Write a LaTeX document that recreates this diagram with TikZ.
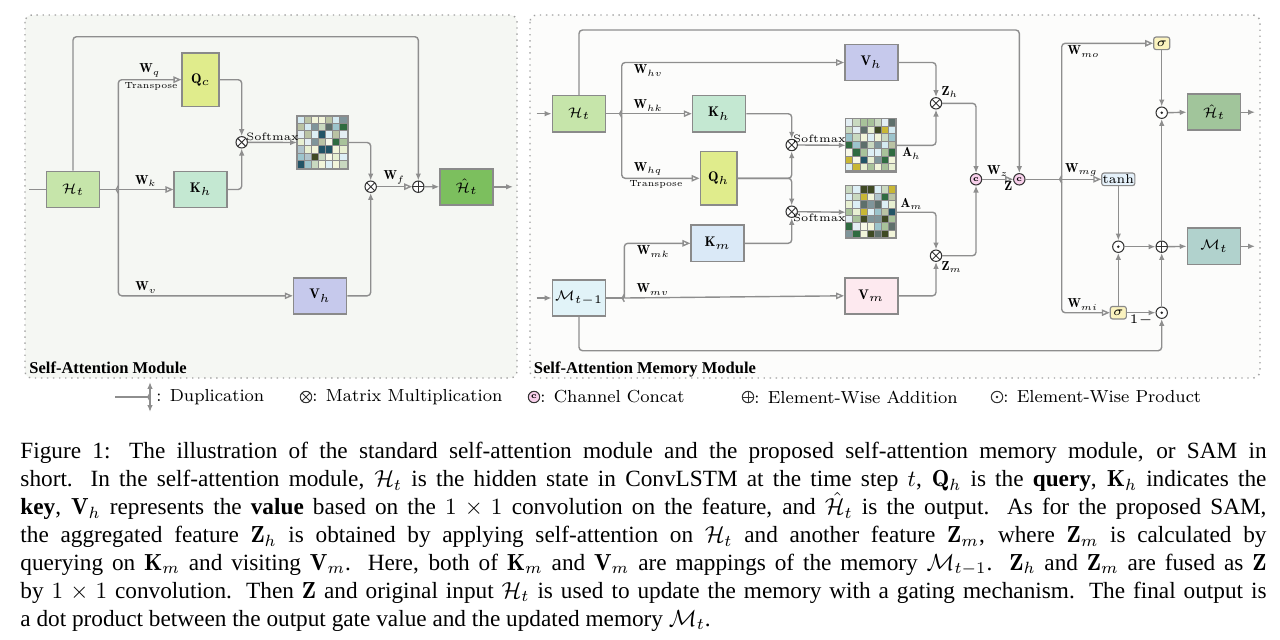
\RequirePackage{fix-cm}
\documentclass[tikz,border=0pt]{standalone}
\usepackage{amsmath, amssymb}
\usepackage{fontspec}
\newfontfamily\capfont{Liberation Serif}
\usepackage{tikz}
\usetikzlibrary{
  positioning,
  arrows.meta,
  calc
}
\definecolor{wiregray}{HTML}{8E8E8E}
\definecolor{boxgray}{HTML}{8A8A8A}
\definecolor{cellgray}{HTML}{8C8C8C}
\definecolor{panelL}{HTML}{F5F7F3}
\definecolor{panelR}{HTML}{FCFCFB}
\definecolor{hgreen}{HTML}{C6E5AA}
\definecolor{qyellow}{HTML}{E0EC8C}
\definecolor{kmint}{HTML}{C4E8D2}
\definecolor{vlav}{HTML}{C6C9EC}
\definecolor{outgreen}{HTML}{7CBF5E}
\definecolor{kmblue}{HTML}{DAE9F7}
\definecolor{memcyan}{HTML}{E1F3F8}
\definecolor{vmpink}{HTML}{FDE9EF}
\definecolor{outsage}{HTML}{A1C59B}
\definecolor{memteal}{HTML}{B1D2CD}
\definecolor{sigyellow}{HTML}{FBF3BF}
\definecolor{tanhblue}{HTML}{E5F1FA}
\definecolor{catpink}{HTML}{F7CFEA}
% attention map palette
\definecolor{mc0}{HTML}{F2F5DA}
\definecolor{mc1}{HTML}{D4EAF1}
\definecolor{mc2}{HTML}{7F959A}
\definecolor{mc3}{HTML}{A8C29A}
\definecolor{mc4}{HTML}{E3EEF3}
\definecolor{mc5}{HTML}{5E6F6B}
\definecolor{mc6}{HTML}{BAC3A4}
\definecolor{mc7}{HTML}{9CC4CC}
\definecolor{mc8}{HTML}{3F4A24}
\definecolor{mc9}{HTML}{C9D9C0}
\definecolor{mc10}{HTML}{C8B735}
\definecolor{mc11}{HTML}{225466}
\definecolor{mc12}{HTML}{E8F0D2}
\definecolor{mc13}{HTML}{B0C4CC}
\definecolor{mc14}{HTML}{DDEFF5}
\definecolor{mc15}{HTML}{2F6B40}
\definecolor{mc16}{HTML}{F7F8E8}
\tikzset{
  box/.style={
    draw=boxgray, line width=0.7pt,
    minimum width=22.8pt,
    minimum height=15.5pt,
    inner sep=0pt,
    font=\fontsize{6}{7}\selectfont
  },
  tallbox/.style={box, minimum width=15.9pt, minimum height=23.2pt},
  gate/.style={
    draw=boxgray, line width=0.5pt, rounded corners=1pt,
    minimum width=6.9pt, minimum height=5.4pt, inner sep=0.4pt,
    font=\fontsize{5.5}{6}\selectfont
  },
  op/.style={circle, draw=black!80, line width=0.45pt, minimum size=4.9pt, inner sep=0pt, fill=white},
  multop/.style={op, path picture={
    \draw[black!80, line width=0.4pt] (path picture bounding box.north west) -- (path picture bounding box.south east)
      (path picture bounding box.north east) -- (path picture bounding box.south west);}},
  plusop/.style={op, path picture={
    \draw[black!80, line width=0.4pt] (path picture bounding box.north) -- (path picture bounding box.south)
      (path picture bounding box.west) -- (path picture bounding box.east);}},
  dotop/.style={op, path picture={\fill[black!85] (path picture bounding box.center) circle (0.6pt);}},
  catop/.style={op, fill=catpink, font=\fontsize{3.6}{4}\selectfont\bfseries},
  wire/.style={draw=wiregray, line width=0.6pt, rounded corners=1.5pt},
  arr/.style={wire, -{Latex[length=3pt,width=2.4pt]}},
  warr/.style={wire, -{Triangle[open,length=3.4pt,width=2.8pt]}},
  lbl/.style={font=\fontsize{5.6}{6}\selectfont, inner sep=0.8pt},
  tlbl/.style={font=\fontsize{3.8}{4}\selectfont, inner sep=0.8pt},
  smx/.style={font=\fontsize{4.6}{5}\selectfont, inner sep=0.6pt},
  panel/.style={draw=gray!75, dotted, line width=0.6pt, rounded corners=3pt},
  modlabel/.style={anchor=base west, inner sep=0pt, font=\capfont\bfseries\fontsize{7.1}{8}\selectfont},
  legtext/.style={anchor=west, inner sep=0pt, font=\fontsize{7.5}{8}\selectfont},
  attbox/.style={minimum width=21.5pt, minimum height=22.4pt, inner sep=0pt},
  cell/.style={draw=cellgray, line width=0.35pt},
  captext/.style={anchor=north west, inner sep=0pt, align=left, font=\capfont\fontsize{10}{12}\selectfont}
}
% duplication notch on a split point
\newcommand{\dupl}[1]{
  \draw[wire, rounded corners=0pt] ([yshift=1.6pt]#1) -- ([xshift=-0.9pt]#1) -- ([yshift=-1.6pt]#1);
}
% 7x7 attention map: name, position, seed
\newcommand{\attmap}[3]{
  \node[attbox] (#1) at (#2) {};
  \foreach \i in {0,...,6}{
    \foreach \j in {0,...,6}{
      \pgfmathtruncatemacro{\k}{mod(5*\i*\i+3*\j*\j+7*\i*\j+2*\j+#3,17)}
      \draw[cell, fill=mc\k] ($(#1.north west)+(\j*7.143,\i*7.43)$) rectangle ++(7.143,7.43);
    }
  }
  \draw[cell, line width=0.6pt] (#1.north west) rectangle (#1.south east);
}
\newcommand{\capline}[1]{\makebox[535.8pt][s]{#1}}

\begin{document}
\begin{tikzpicture}[x=0.43pt, y=-0.43pt]
\useasboundingbox (0,0) rectangle (1280,639);

% panels
\draw[panel, fill=panelL] (25,15) rectangle (517,378);
\draw[panel, fill=panelR] (530,15) rectangle (1260,378);
\node[modlabel] (samod) at (29,373.5) {Self-Attention Module};
\node[modlabel] (sammod) at (533.5,373.5) {Self-Attention Memory Module};

% Self-Attention Module (left)
\node[box, fill=hgreen] (Ht) at (73,189.5) {$\mathcal{H}_t$};
\node[tallbox, fill=qyellow] (Qc) at (200.7,79.7) {$\mathbf{Q}_c$};
\node[box, fill=kmint] (Kh) at (200.7,189.5) {$\mathbf{K}_h$};
\node[box, fill=vlav] (Vh) at (320,295.8) {$\mathbf{V}_h$};
\node[multop] (mulA) at (241.7,142.3) {};
\attmap{att}{322.5,142.5}{1}
\node[multop] (mulB) at (370.7,186.7) {};
\node[plusop] (plusL) at (418.3,186.7) {};
\node[box, fill=outgreen] (Hout) at (466.7,186.8) {$\hat{\mathcal{H}}_t$};
\coordinate (inL) at (29,189.5);
\coordinate (splL) at (118.3,189.5);
\coordinate (topL) at (0,36.7);
\coordinate (outL) at (513,186.8);

\draw[wire] (inL) -- (Ht.west);
\draw[arr] (Ht.north) -- (Ht.north |- topL) -| (plusL.north);
\draw[wire] (Ht.east) -- (splL);
\dupl{splL}
\draw[warr] (splL) |- (Qc.west) node[lbl, pos=0.75, above] {$\mathbf{W}_q$} node[tlbl, pos=0.76, below] {Transpose};
\draw[warr] (splL) -- (Kh.west) node[lbl, midway, above] {$\mathbf{W}_k$};
\draw[warr] (splL) |- (Vh.west) node[lbl, pos=0.58, above] {$\mathbf{W}_v$};
\draw[arr] (Qc.east) -| (mulA.north);
\draw[arr] (Kh.east) -| (mulA.south);
\draw[arr] (mulA.east) -- (att.west) node[smx, midway, above] {Softmax};
\draw[arr] (att.east) -| (mulB.north);
\draw[arr] (Vh.east) -| (mulB.south);
\draw[warr] (mulB.east) -- (plusL.west) node[lbl, midway, above] {$\mathbf{W}_f$};
\draw[arr] (plusL.east) -- (Hout.west);
\draw[arr] (Hout.east) -- (outL);

% Self-Attention Memory Module (right)
\node[box, fill=hgreen] (Ht2) at (579,113.7) {$\mathcal{H}_t$};
\node[box, fill=memcyan] (Mt1) at (579,298) {$\mathcal{M}_{t-1}$};
\node[box, fill=vlav] (Vh2) at (871.3,62.5) {$\mathbf{V}_h$};
\node[box, fill=kmint] (Kh2) at (719,113.7) {$\mathbf{K}_h$};
\node[tallbox, fill=qyellow] (Qh2) at (718.8,178.3) {$\mathbf{Q}_h$};
\node[box, fill=kmblue] (Km) at (717.7,243.3) {$\mathbf{K}_m$};
\node[box, fill=vmpink] (Vm) at (871.3,295.8) {$\mathbf{V}_m$};
\node[multop] (mulH) at (791.7,145) {};
\node[multop] (mulM) at (791.7,211.7) {};
\attmap{Ah}{871.2,145.3}{4}
\attmap{Am}{871.2,212.2}{9}
\node[multop, label={[lbl, inner sep=0.3pt]above right:$\mathbf{Z}_h$}] (mulZh) at (936,103.3) {};
\node[multop, label={[lbl, inner sep=0.3pt]below right:$\mathbf{Z}_m$}] (mulZm) at (936,255.7) {};
\node[catop] (catA) at (976,179.3) {c};
\node[catop] (catB) at (1019.3,179.3) {c};
\node[gate, fill=sigyellow] (sigO) at (1161.7,43.3) {$\sigma$};
\node[gate, fill=tanhblue, minimum width=11.2pt] (tanhN) at (1118.3,179.3) {tanh};
\node[gate, fill=sigyellow] (sigI) at (1118.3,312.7) {$\sigma$};
\node[dotop] (dotG) at (1118.3,246.7) {};
\node[plusop] (plusM) at (1161.7,246.7) {};
\node[dotop] (dotC) at (1161.7,312.7) {};
\node[dotop] (dotO) at (1161.7,112.7) {};
\node[box, fill=outsage] (HoutR) at (1214,112.2) {$\hat{\mathcal{H}}_t$};
\node[box, fill=memteal] (Mt) at (1214,246.3) {$\mathcal{M}_t$};
\coordinate (inH) at (536.7,113.7);
\coordinate (inM) at (536.7,298);
\coordinate (splR) at (621.7,113.7);
\coordinate (splM) at (624.3,298);
\coordinate (splZ) at (1061.7,179.3);
\coordinate (topR) at (0,30);
\coordinate (botR) at (0,350.7);
\coordinate (outH) at (1255,112.2);
\coordinate (outM) at (1255,246.3);

\draw[arr] (inH) -- (Ht2.west);
\draw[arr] (inM) -- (Mt1.west);
\draw[arr] (Ht2.north) -- (Ht2.north |- topR) -| (catB.north);
\draw[arr] (Mt1.south) -- (Mt1.south |- botR) -| (dotC.south);
\draw[wire] (Ht2.east) -- (splR);
\dupl{splR}
\draw[warr] (splR) |- (Vh2.west) node[lbl, pos=0.56, below] {$\mathbf{W}_{hv}$};
\draw[warr] (splR) -- (Kh2.west) node[lbl, pos=0.38, above] {$\mathbf{W}_{hk}$};
\draw[warr] (splR) |- (Qh2.west) node[lbl, pos=0.67, above] {$\mathbf{W}_{hq}$} node[tlbl, pos=0.72, below] {Transpose};
\draw[wire] (Mt1.east) -- (splM);
\dupl{splM}
\draw[warr] (splM) |- (Km.west) node[lbl, pos=0.72, below] {$\mathbf{W}_{mk}$};
\draw[warr] (splM) -- (Vm.west) node[lbl, pos=0.13, above] {$\mathbf{W}_{mv}$};
\draw[arr] (Kh2.east) -| (mulH.north);
\draw[arr] (Qh2.east) -| (mulH.south);
\draw[arr] (Qh2.east) -| (mulM.north);
\draw[arr] (Km.east) -| (mulM.south);
\draw[arr] (mulH.east) -- (Ah.west) node[smx, pos=0.45, above] {Softmax};
\draw[arr] (mulM.east) -- (Am.west) node[smx, pos=0.45, below] {Softmax};
\draw[arr] (Vh2.east) -| (mulZh.north);
\draw[arr] (Ah.east) -| (mulZh.south) node[lbl, pos=0.19, below] {$\mathbf{A}_h$};
\draw[arr] (Am.east) -| (mulZm.north) node[lbl, pos=0.19, above] {$\mathbf{A}_m$};
\draw[arr] (Vm.east) -| (mulZm.south);
\draw[arr] (mulZh.east) -| (catA.north);
\draw[arr] (mulZm.east) -| (catA.south);
\draw[warr] (catA.east) -- (catB.west) node[lbl, midway, above] {$\mathbf{W}_z$} node[lbl, pos=0.85, below] {$\mathbf{Z}$};
\draw[wire] (catB.east) -- (splZ);
\dupl{splZ}
\draw[warr] (splZ) |- (sigO.west) node[lbl, pos=0.62, below] {$\mathbf{W}_{mo}$};
\draw[warr] (splZ) -- (tanhN.west) node[lbl, midway, above] {$\mathbf{W}_{mg}$};
\draw[warr] (splZ) |- (sigI.west) node[lbl, pos=0.72, above] {$\mathbf{W}_{mi}$};
\draw[arr] (tanhN.south) -- (dotG.north);
\draw[arr] (sigI.north) -- (dotG.south);
\draw[arr] (dotG.east) -- (plusM.west);
\draw[arr] (sigI.east) -- (dotC.west) node[lbl, midway, below] {$1-$};
\draw[arr] (dotC.north) -- (plusM.south);
\draw[arr] (plusM.north) -- (dotO.south);
\draw[arr] (sigO.south) -- (dotO.north);
\draw[arr] (dotO.east) -- (HoutR.west);
\draw[arr] (HoutR.east) -- (outH);
\draw[arr] (plusM.east) -- (Mt.west);
\draw[arr] (Mt.east) -- (outM);

% legend
\coordinate (lgIn) at (115,397);
\coordinate (lgSplit) at (150,397);
\draw[wire] (lgIn) -- (lgSplit);
\dupl{lgSplit}
\draw[arr] (lgSplit) -- ++(0,-15);
\draw[arr] (lgSplit) -- ++(0,15);
\node[legtext] (lgDupT) at (156,397) {: Duplication};
\node[multop] (lgMul) at (306,397) {};
\node[legtext] (lgMulT) at (312,397) {: Matrix Multiplication};
\node[catop] (lgCat) at (534,397) {c};
\node[legtext] (lgCatT) at (540,397) {: Channel Concat};
\node[plusop] (lgAdd) at (748,397) {};
\node[legtext] (lgAddT) at (754,397) {: Element-Wise Addition};
\node[dotop] (lgDot) at (997,397) {};
\node[legtext] (lgDotT) at (1003,397) {: Element-Wise Product};

% caption
\node[captext] (cap) at (20,442) {%
\capline{Figure 1: The illustration of the standard self-attention module and the proposed self-attention memory module, or SAM in}\\
\capline{short. In the self-attention module, $\mathcal{H}_t$ is the hidden state in ConvLSTM at the time step $t$, $\mathbf{Q}_h$ is the \textbf{query}, $\mathbf{K}_h$ indicates the}\\
\capline{\textbf{key}, $\mathbf{V}_h$ represents the \textbf{value} based on the $1\times1$ convolution on the feature, and $\hat{\mathcal{H}}_t$ is the output. As for the proposed SAM,}\\
\capline{the aggregated feature $\mathbf{Z}_h$ is obtained by applying self-attention on $\mathcal{H}_t$ and another feature $\mathbf{Z}_m$, where $\mathbf{Z}_m$ is calculated by}\\
\capline{querying on $\mathbf{K}_m$ and visiting $\mathbf{V}_m$. Here, both of $\mathbf{K}_m$ and $\mathbf{V}_m$ are mappings of the memory $\mathcal{M}_{t-1}$. $\mathbf{Z}_h$ and $\mathbf{Z}_m$ are fused as $\mathbf{Z}$}\\
\capline{by $1\times1$ convolution. Then $\mathbf{Z}$ and original input $\mathcal{H}_t$ is used to update the memory with a gating mechanism. The final output is}\\
a dot product between the output gate value and the updated memory $\mathcal{M}_t$.};

\end{tikzpicture}
\end{document}
